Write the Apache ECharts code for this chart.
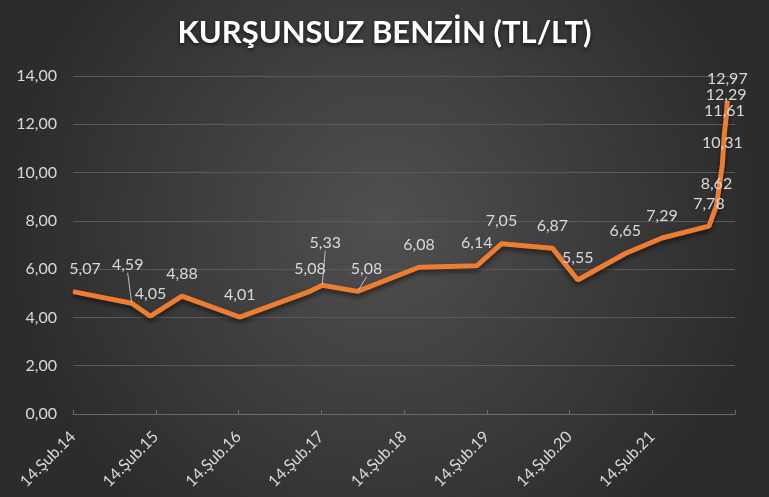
<!DOCTYPE html>
<html>
<head>
<meta charset="utf-8">
<script src="https://cdn.jsdelivr.net/npm/echarts@6/dist/echarts.min.js"></script>
<style>
  html, body { margin: 0; padding: 0; }
  #chart { width: 769px; height: 497px; }
</style>
</head>
<body>
<div id="chart"></div>
<script>
// tarihler ve fiyatlar
var dates = ['2014-02-14', '2014-10-31', '2015-01-22', '2015-06-10', '2016-02-20',
    '2016-12-26', '2017-02-18', '2017-07-24', '2018-04-21', '2019-01-01',
    '2019-04-20', '2019-12-01', '2020-03-22', '2020-10-18', '2021-03-29',
    '2021-10-22', '2021-11-24', '2021-12-20', '2021-12-29', '2022-01-06', '2022-01-11'];
var prices = [5.07, 4.59, 4.05, 4.88, 4.01, 5.08, 5.33, 5.08, 6.08, 6.14,
    7.05, 6.87, 5.55, 6.65, 7.29, 7.78, 8.62, 10.31, 11.61, 12.29, 12.97];
var yearLabels = ['14.Şub.14', '14.Şub.15', '14.Şub.16', '14.Şub.17',
    '14.Şub.18', '14.Şub.19', '14.Şub.20', '14.Şub.21'];

var start = Date.UTC(2014, 1, 14);
var yearMs = 365.25 * 24 * 3600 * 1000;

// elle kaydırılan etiketler
var moved = { 0: [12, 0], 1: [-4, -16], 6: [3, -20], 7: [9, 0] };
var leader = { 1: true, 6: true, 7: true };

var seriesData = [];
for (var i = 0; i < dates.length; ++i) {
    var p = dates[i].split('-');
    var t = Date.UTC(+p[0], +p[1] - 1, +p[2]);
    var item = { value: [(t - start) / yearMs, prices[i]] };
    if (leader[i]) {
        item.labelLine = { show: true };
    }
    seriesData.push(item);
}

function comma(v, d) {
    return v.toFixed(d).replace('.', ',');
}

var myChart = echarts.init(document.getElementById('chart'));
var option = {
    backgroundColor: {
        type: 'radial', x: 0.5, y: 0.45, r: 0.75,
        colorStops: [
            { offset: 0, color: '#505050' },
            { offset: 1, color: '#2c2c2c' }
        ]
    },
    title: {
        text: 'KURŞUNSUZ BENZİN (TL/LT)',
        left: 'center',
        top: 12,
        textStyle: {
            color: '#ffffff',
            fontFamily: 'Lato',
            fontWeight: 'bold',
            fontSize: 31,
            textShadowColor: 'rgba(0,0,0,0.6)',
            textShadowBlur: 4,
            textShadowOffsetY: 2
        }
    },
    grid: { left: 73, right: 34, top: 76, bottom: 83, containLabel: false },
    xAxis: {
        type: 'value',
        min: 0,
        max: 8,
        interval: 1,
        axisLine: { lineStyle: { color: '#6a6a6a', width: 1 } },
        axisTick: { show: true, length: 4, inside: true, lineStyle: { color: '#6a6a6a' } },
        splitLine: { show: false },
        axisLabel: {
            rotate: 45,
            margin: 20,
            color: '#d9d9d9',
            fontFamily: 'Lato',
            fontSize: 16,
            formatter: function (v) {
                return yearLabels[Math.round(v)] || '';
            }
        }
    },
    yAxis: {
        type: 'value',
        min: 0,
        max: 14,
        interval: 2,
        axisLine: { show: false },
        axisTick: { show: false },
        splitLine: { lineStyle: { color: '#5a5a5a', width: 1 } },
        axisLabel: {
            color: '#d9d9d9',
            fontFamily: 'Lato',
            fontSize: 16,
            margin: 16,
            formatter: function (v) { return comma(v, 2); }
        }
    },
    series: [{
        type: 'line',
        data: seriesData,
        showSymbol: true,
        symbol: 'circle',
        symbolSize: 1,
        itemStyle: { color: '#ed7d31' },
        lineStyle: {
            color: '#ed7d31',
            width: 5,
            shadowColor: 'rgba(0,0,0,0.55)',
            shadowBlur: 5,
            shadowOffsetY: 3
        },
        label: {
            show: true,
            position: 'top',
            distance: 14,
            color: '#d9d9d9',
            fontFamily: 'Lato',
            fontSize: 16,
            formatter: function (p) { return comma(p.value[1], 2); }
        },
        labelLine: {
            show: false,
            lineStyle: { color: '#bfbfbf', width: 1 }
        },
        labelLayout: function (params) {
            var m = moved[params.dataIndex];
            if (m) {
                return { dx: m[0], dy: m[1] };
            }
            return {};
        },
        animation: false
    }]
};
myChart.setOption(option);
</script>
</body>
</html>
